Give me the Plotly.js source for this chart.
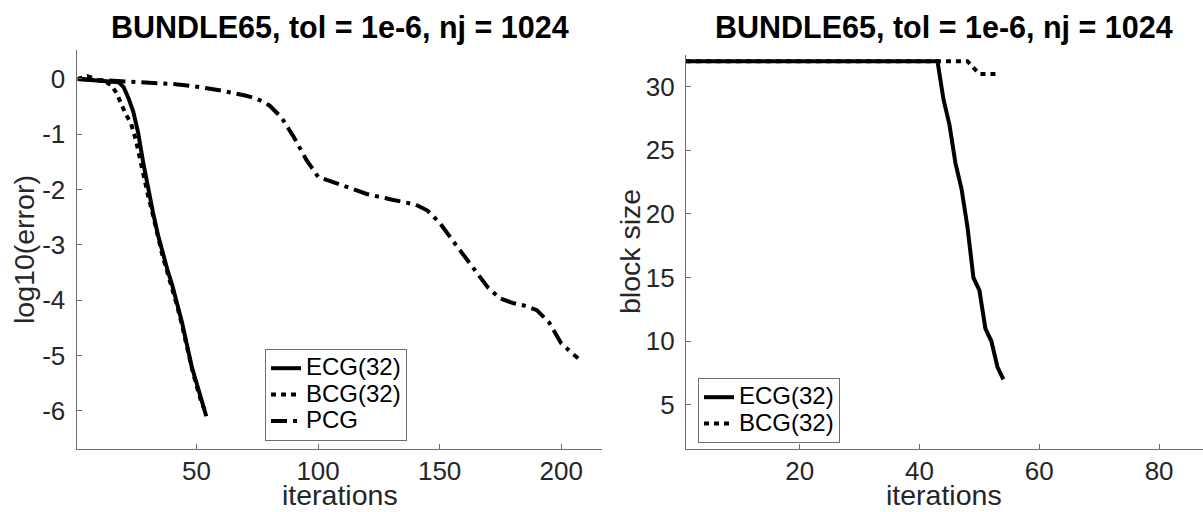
<!DOCTYPE html>
<html>
<head>
<meta charset="utf-8">
<script src="https://cdn.plot.ly/plotly-3.0.1.min.js"></script>
<style>html,body{margin:0;padding:0;background:#fff;}#plot{width:1203px;height:512px;}</style>
</head>
<body>
<div id="plot"></div>
<script>
// ---- Data ----
const chartTitle = "BUNDLE65, tol = 1e-6, nj = 1024";
const seriesNames = ["ECG(32)", "BCG(32)", "PCG"];
const xTitle = "iterations";
const yTitleLeft = "log10(error)";
const yTitleRight = "block size";

// Left panel: log10(error) vs iterations
const ecgIterL = [1, 5, 10, 15, 18, 20, 22, 24, 26, 28, 30, 32, 34, 36, 38, 40, 42, 44, 46, 48, 50, 52, 53, 54];
const ecgErr   = [0, -0.01, -0.03, -0.04, -0.06, -0.15, -0.35, -0.6, -0.98, -1.5, -2.0, -2.4, -2.8, -3.15, -3.45, -3.73, -4.05, -4.4, -4.8, -5.2, -5.5, -5.8, -5.95, -6.1];

const bcgIterL = [1, 5, 7, 10, 13, 15, 17, 19, 21, 23, 25, 27, 29, 30, 32, 34, 36, 38, 40, 42, 44, 46, 48, 50, 52, 54];
const bcgErr   = [0, 0.05, 0.02, -0.03, -0.06, -0.12, -0.25, -0.45, -0.65, -0.8, -1.1, -1.5, -1.95, -2.1, -2.45, -2.85, -3.2, -3.5, -3.78, -4.1, -4.45, -4.85, -5.22, -5.55, -5.85, -6.05];

const pcgIter = [1, 10, 20, 30, 40, 50, 60, 70, 75, 80, 85, 90, 95, 100, 105, 110, 120, 130, 140, 145, 150, 155, 160, 165, 170, 175, 180, 185, 190, 195, 200, 205, 207];
const pcgErr  = [0, -0.02, -0.04, -0.06, -0.09, -0.14, -0.21, -0.3, -0.36, -0.48, -0.7, -1.05, -1.45, -1.77, -1.85, -1.92, -2.08, -2.18, -2.27, -2.38, -2.6, -2.9, -3.2, -3.5, -3.78, -3.97, -4.05, -4.1, -4.18, -4.4, -4.78, -4.98, -5.05];

// Right panel: block size vs iterations
const ecgIterR = [1, 43, 44, 45, 46, 47, 48, 49, 50, 51, 52, 53, 54];
const ecgBlock = [32, 32, 29, 27, 24, 22, 19, 15, 14, 11, 10, 8, 7];

const bcgIterR = [1, 48, 49, 50, 53];
const bcgBlock = [32, 32, 31.5, 31, 31];

// Axis ticks
const leftXTicks = [50, 100, 150, 200];
const leftYTicks = [0, -1, -2, -3, -4, -5, -6];
const rightXTicks = [20, 40, 60, 80];
const rightYTicks = [5, 10, 15, 20, 25, 30];

// ---- Styling ----
const FONT = "Liberation Sans, Arial, Helvetica, sans-serif";
const TXT = "#262626";
const AXLINE = "#6e6e6e";
const LW = 4;
const solid = {color: "#000", width: LW, dash: "solid"};
const dotted = {color: "#000", width: LW, dash: "5px,5px"};
const dashdot = {color: "#000", width: LW, dash: "16px,6px,4px,6px"};

const legendLabel = (s) => '<span style="font-size:24px">' + s + '</span>';

const traces = [
  {x: ecgIterL, y: ecgErr, mode: "lines", name: legendLabel(seriesNames[0]), line: solid, xaxis: "x", yaxis: "y", legend: "legend"},
  {x: bcgIterL, y: bcgErr, mode: "lines", name: legendLabel(seriesNames[1]), line: dotted, xaxis: "x", yaxis: "y", legend: "legend"},
  {x: pcgIter, y: pcgErr, mode: "lines", name: legendLabel(seriesNames[2]), line: dashdot, xaxis: "x", yaxis: "y", legend: "legend"},
  {x: ecgIterR, y: ecgBlock, mode: "lines", name: legendLabel(seriesNames[0]), line: solid, xaxis: "x2", yaxis: "y2", legend: "legend2"},
  {x: bcgIterR, y: bcgBlock, mode: "lines", name: legendLabel(seriesNames[1]), line: dotted, xaxis: "x2", yaxis: "y2", legend: "legend2"}
];

const TICKSIZE = 26;
const TITLESIZE = 28.5;

function axisBase(extra) {
  return Object.assign({
    showline: true, linecolor: AXLINE, linewidth: 1, mirror: false,
    showgrid: false, zeroline: false,
    ticks: "inside", ticklen: 5, tickwidth: 1, tickcolor: AXLINE,
    tickfont: {family: FONT, size: TICKSIZE, color: TXT},
    automargin: false, fixedrange: true, tickmode: "array"
  }, extra);
}

const legendBase = {
  font: {family: FONT, size: 18, color: "#000"},
  bgcolor: "#fff", bordercolor: AXLINE, borderwidth: 1,
  xanchor: "left", yanchor: "top", tracegroupgap: 0, itemwidth: 30
};

function axisTitleAnn(text, x, y, angle, extra) {
  return Object.assign({text: text, xref: "paper", yref: "paper", x: x, y: y, textangle: angle,
    showarrow: false, font: {family: FONT, size: TITLESIZE, color: TXT}}, extra);
}

const layout = {
  width: 1203, height: 512,
  margin: {l: 0, r: 0, t: 0, b: 0},
  paper_bgcolor: "#fff", plot_bgcolor: "#fff",
  font: {family: FONT, color: TXT},
  showlegend: true,
  xaxis: axisBase({domain: [0.0644, 0.5008], range: [1, 217], tickvals: leftXTicks, ticktext: leftXTicks.map(String),
    anchor: "y", ticklabelstandoff: -2}),
  yaxis: axisBase({domain: [0.1221, 0.902], range: [-6.7, 0.52], tickvals: leftYTicks, ticktext: leftYTicks.map(String),
    anchor: "x", ticklabelstandoff: 6}),
  xaxis2: axisBase({domain: [0.5702, 1], range: [1, 87.33], tickvals: rightXTicks, ticktext: rightXTicks.map(String),
    anchor: "y2", ticklabelstandoff: -2}),
  yaxis2: axisBase({domain: [0.1221, 0.8928], range: [1.5, 32.5], tickvals: rightYTicks, ticktext: rightYTicks.map(String),
    anchor: "x2", ticklabelstandoff: 5}),
  legend: Object.assign({}, legendBase, {x: 265 / 1203, y: 1 - 349 / 512}),
  legend2: Object.assign({}, legendBase, {x: 698 / 1203, y: 1 - 378 / 512}),
  annotations: [
    {text: chartTitle, xref: "paper", yref: "paper", x: 340 / 1203, y: 1 - 27 / 512, xanchor: "center", yanchor: "middle",
     showarrow: false, font: {family: FONT, size: 30.5, color: "#000", weight: 700}},
    {text: chartTitle, xref: "paper", yref: "paper", x: 944 / 1203, y: 1 - 27 / 512, xanchor: "center", yanchor: "middle",
     showarrow: false, font: {family: FONT, size: 30.5, color: "#000", weight: 700}},
    axisTitleAnn(xTitle, 340 / 1203, 0, 0, {xanchor: "center", yanchor: "bottom", yshift: -1}),
    axisTitleAnn(xTitle, 944 / 1203, 0, 0, {xanchor: "center", yanchor: "bottom", yshift: -1}),
    axisTitleAnn(yTitleLeft, 24 / 1203, 1 - 250 / 512, -90, {xanchor: "center", yanchor: "middle"}),
    axisTitleAnn(yTitleRight, 630 / 1203, 1 - 252 / 512, -90, {xanchor: "center", yanchor: "middle"})
  ]
};

Plotly.newPlot("plot", traces, layout, {staticPlot: true, displayModeBar: false});
</script>
</body>
</html>
